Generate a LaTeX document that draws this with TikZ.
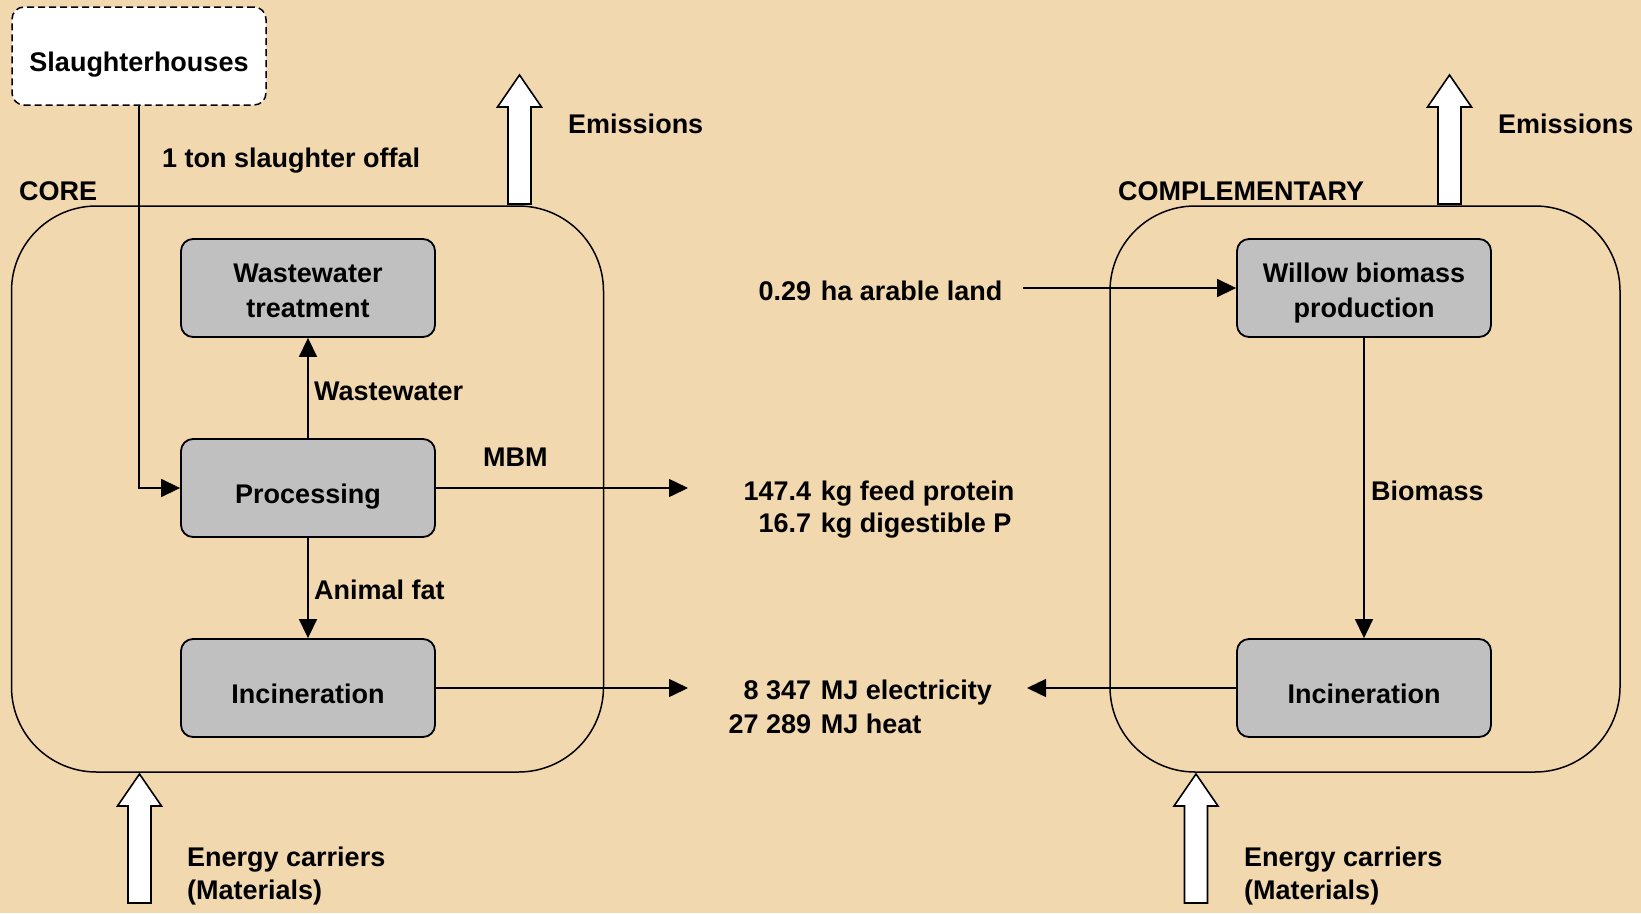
\documentclass[tikz,border=0pt]{standalone}
\usepackage{fontspec}
\setmainfont{Liberation Sans}
\usetikzlibrary{arrows.meta}
\definecolor{bg}{RGB}{242,216,174}
\definecolor{boxgray}{RGB}{192,192,192}
\newcommand\twol[3]{\raisebox{#1}[\height][\depth]{\begin{tabular}{@{}c@{}}#2\\#3\end{tabular}}}
\newcommand\numcol[1]{\makebox[91pt][r]{#1}\hspace{9.7pt}}
\tikzset{
  pics/blkup/.style={code={
    \draw[line width=1.6pt, fill=white, line join=miter]
      (-11.5,0) -- (-11.5,-97) -- (-22,-97) -- (0,-129) -- (22,-97) -- (11.5,-97) -- (11.5,0) -- cycle;}}
}
\begin{document}
\begin{tikzpicture}[x=1pt,y=-1pt,
  every node/.style={font=\fontsize{27}{35}\selectfont\bfseries},
  procbox/.style={draw=black, line width=1.8pt, fill=boxgray, rounded corners=12pt,
    minimum width=254pt, minimum height=98pt, inner sep=0pt},
  oneline/.style={text height=30pt, text depth=0pt},
  container/.style={draw=black, line width=1.5pt, rounded corners=85pt, inner sep=0pt},
  flow/.style={draw=black, line width=1.5pt, -{Triangle[length=19pt,width=18pt]}},
  lbl/.style={anchor=base west, inner sep=0pt},
  blk/.style={anchor=north west, inner sep=0pt}]
\fill[bg] (0,0) rectangle (1641,913);
\useasboundingbox (0,0) rectangle (1641,913);

% containers
\node[container, minimum width=592pt, minimum height=566pt] (corebox) at (307.5,489) {};
\node[container, minimum width=510pt, minimum height=566pt] (compbox) at (1365,489) {};

% block arrows
\pic at (519.5,204) {blkup};
\pic at (1449.5,204) {blkup};
\pic at (139.5,903) {blkup};
\pic at (1196,903) {blkup};

% process boxes
\node[procbox, oneline, fill=white, dash pattern=on 7pt off 4pt, line width=1.5pt] (sl) at (139,56) {Slaughterhouses};
\node[procbox] (wwt) at (308,288) {\twol{-5pt}{Wastewater}{treatment}};
\node[procbox, oneline] (proc) at (308,488) {Processing};
\node[procbox, oneline] (inc) at (308,688) {Incineration};
\node[procbox] (wil) at (1364,288) {\twol{-4.5pt}{Willow biomass}{production}};
\node[procbox, oneline] (inc2) at (1364,688) {Incineration};

% free ends
\coordinate (mbmend) at (688,488);
\coordinate (eleend) at (688,688);
\coordinate (landstart) at (1023,288);
\coordinate (eleend2) at (1027,688);

% connectors
\draw[flow] (sl.south) |- (proc.west);
\draw[flow] (proc.north) -- (wwt.south);
\draw[flow] (proc.south) -- (inc.north);
\draw[flow] (proc.east) -- (mbmend);
\draw[flow] (inc.east) -- (eleend);
\draw[flow] (landstart) -- (wil.west);
\draw[flow] (inc2.west) -- (eleend2);
\draw[flow] (wil.south) -- (inc2.north);

% labels
\node[lbl] (offal) at (162,167) {1 ton slaughter offal};
\node[lbl] (corelbl) at (19,200) {CORE};
\node[lbl] (complbl) at (1118,200) {COMPLEMENTARY};
\node[lbl] (em1) at (568,133) {Emissions};
\node[lbl] (em2) at (1498,133) {Emissions};
\node[lbl] (wwl) at (314,400) {Wastewater};
\node[lbl] (mbm) at (483,466) {MBM};
\node[lbl] (fat) at (314,599) {Animal fat};
\node[lbl] (bio) at (1371,500) {Biomass};

\node[lbl] (land) at (720,300) {\numcol{0.29}ha arable land};
\node[blk, font=\fontsize{27}{32.7}\selectfont\bfseries] (feed) at (720,477.1)
  {\begin{tabular}{@{}l@{}}\numcol{147.4}kg feed protein\\\numcol{16.7}kg digestible P\end{tabular}};
\node[blk, font=\fontsize{27}{34}\selectfont\bfseries] (energy) at (720,675.2)
  {\begin{tabular}{@{}l@{}}\numcol{8 347}MJ electricity\\\numcol{27 289}MJ heat\end{tabular}};
\node[blk, font=\fontsize{27}{33}\selectfont\bfseries] (ec1) at (187,842.9)
  {\begin{tabular}{@{}l@{}}Energy carriers\\(Materials)\end{tabular}};
\node[blk, font=\fontsize{27}{33}\selectfont\bfseries] (ec2) at (1244,842.9)
  {\begin{tabular}{@{}l@{}}Energy carriers\\(Materials)\end{tabular}};
\end{tikzpicture}
\end{document}
